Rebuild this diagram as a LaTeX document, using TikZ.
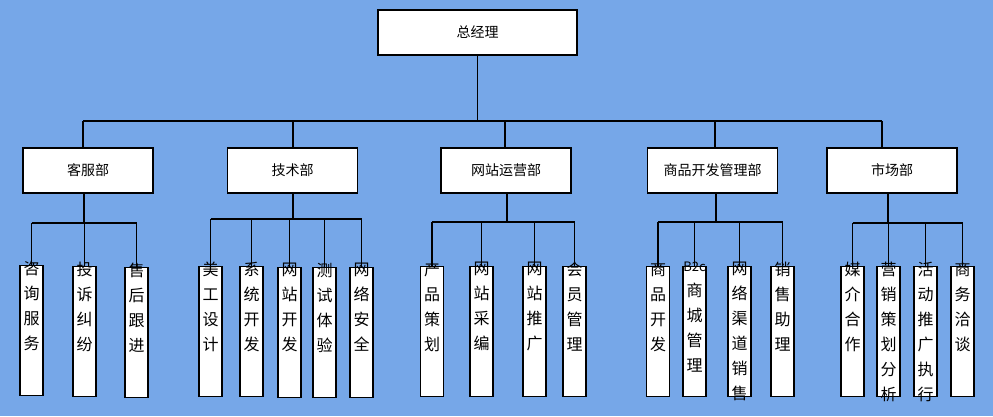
\documentclass[tikz,border=0pt]{standalone}
\usepackage{fontspec}
\setmainfont{Noto Sans CJK SC}
\definecolor{bg}{HTML}{76A7E8}
\begin{document}
\begin{tikzpicture}[x=1pt,y=-1pt,
  box/.style={draw=black,fill=white,line width=1.2pt,inner sep=0pt},
  top/.style={box,minimum width=199pt,minimum height=45pt,font=\fontsize{14}{16}\selectfont},
  dept/.style={box,minimum width=130pt,minimum height=45pt,font=\fontsize{14}{16}\selectfont},
  sub/.style={box,minimum width=23pt,minimum height=130pt},
  subtxt/.style={anchor=north,inner sep=0pt,align=center,font=\fontsize{16}{25}\selectfont},
  ln/.style={line width=1.2pt}]
\fill[bg] (0,0) rectangle (993,416);
\useasboundingbox (0,0) rectangle (993,416);
\node[top] (ceo) at (477.5,32.5) {总经理};
\node[dept] (d1) at (88,170.5) {客服部};
\node[dept] (d2) at (292.5,170.5) {技术部};
\node[dept] (d3) at (506,170.5) {网站运营部};
\node[dept] (d4) at (712.5,170.5) {商品开发管理部};
\node[dept] (d5) at (892,170.5) {市场部};
\coordinate (bus) at (0,121);
\draw[ln] (ceo.south) -- (ceo.south |- bus);
\draw[ln] (83,121) coordinate (bl) -- (882,121) coordinate (br);
\foreach \d/\x in {d1/83,d2/293,d3/505,d4/715,d5/882}
  \draw[ln] (\x,121) -- (\x,148);
\newcommand\subbox[4]{% name, x, y top, text
  \node[sub,anchor=north] (#1) at (#2,#3) {};
  \node[subtxt] (#1t) at ([yshift=4pt]#1.north) {#4};}
% dept 1
\subbox{a1}{31.5}{265}{咨\\询\\服\\务}
\subbox{a2}{84.5}{266}{投\\诉\\纠\\纷}
\subbox{a3}{136.5}{267}{售\\后\\跟\\进}
\draw[ln] (84,193) -- (84,223);
\draw[ln] (a1.north |- 0,223) -- (a3.north |- 0,223);
\foreach \n in {a1,a2,a3} \draw[ln] (\n.north |- 0,223) -- (\n.north);
% dept 2
\subbox{b1}{210.5}{266}{美\\工\\设\\计}
\subbox{b2}{251.5}{266}{系\\统\\开\\发}
\subbox{b3}{289.5}{267}{网\\站\\开\\发}
\subbox{b4}{324.5}{267}{测\\试\\体\\验}
\subbox{b5}{361.5}{267}{网\\络\\安\\全}
\draw[ln] (293,193) -- (293,219);
\draw[ln] (b1.north |- 0,219) -- (b5.north |- 0,219);
\foreach \n in {b1,b2,b3,b4,b5} \draw[ln] (\n.north |- 0,219) -- (\n.north);
% dept 3
\subbox{c1}{432}{266}{产\\品\\策\\划}
\subbox{c2}{481.5}{266}{网\\站\\采\\编}
\subbox{c3}{534.5}{266}{网\\站\\推\\广}
\subbox{c4}{574.5}{266}{会\\员\\管\\理}
\draw[ln] (507,193) -- (507,222);
\draw[ln] (c1.north |- 0,222) -- (c4.north |- 0,222);
\foreach \n in {c1,c2,c3,c4} \draw[ln] (\n.north |- 0,222) -- (\n.north);
% dept 4
\subbox{e1}{658}{266}{商\\品\\开\\发}
\subbox{e2}{694.5}{266}{\fontsize{13}{25}\selectfont B2c\\商\\城\\管\\理}
\subbox{e3}{739.5}{266}{网\\络\\渠\\道\\销\\售}
\subbox{e4}{782.5}{266}{销\\售\\助\\理}
\draw[ln] (716,193) -- (716,222);
\draw[ln] (e1.north |- 0,222) -- (e4.north |- 0,222);
\foreach \n in {e1,e2,e3,e4} \draw[ln] (\n.north |- 0,222) -- (\n.north);
% dept 5
\subbox{f1}{852.5}{266}{媒\\介\\合\\作}
\subbox{f2}{888.5}{266}{营\\销\\策\\划\\分\\析}
\subbox{f3}{925.5}{266}{活\\动\\推\\广\\执\\行}
\subbox{f4}{962.5}{266}{商\\务\\洽\\谈}
\draw[ln] (888,193) -- (888,223);
\draw[ln] (f1.north |- 0,223) -- (f4.north |- 0,223);
\foreach \n in {f1,f2,f3,f4} \draw[ln] (\n.north |- 0,223) -- (\n.north);
\end{tikzpicture}
\end{document}
